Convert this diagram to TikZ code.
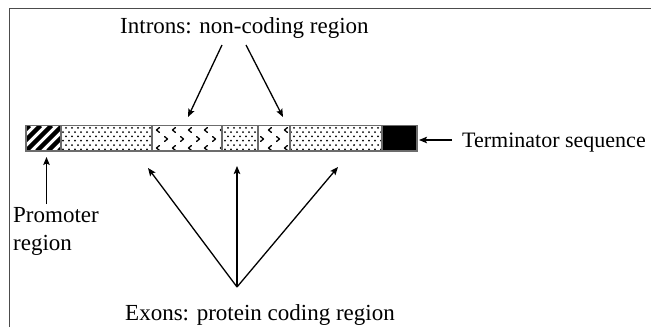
\documentclass[tikz,border=0pt]{standalone}
\usepackage{fontspec}
\setmainfont{Liberation Serif}
\usetikzlibrary{arrows.meta,calc}
\begin{document}
\begin{tikzpicture}[x=1pt,y=-1pt,
  lbl/.style={inner sep=0pt,font=\fontsize{23}{28}\selectfont},
  seg/.style={inner sep=0pt,outer sep=0pt,minimum height=25.5pt,anchor=north west},
  outline/.style={draw=gray!85!black,line width=1.8pt},
  frameline/.style={draw=gray!60!black,line width=1.8pt},
  pointer/.style={draw=black,line width=1.3pt,-{Stealth[length=8pt,width=6.5pt,inset=1.5pt]}},
  hatch/.style={line width=4.3pt,black},
  chevron/.style={line width=1.3pt,black,line cap=round,line join=round}]
\useasboundingbox (0,0) rectangle (651,327);

% frame along the top and left edges
\draw[frameline] (9.5,327) -- (9.5,8.5) -- (651,8.5);

% gene segments
\node[seg,minimum width=35pt] (prom) at (26,125.5) {};
\node[seg,minimum width=91pt] (exA) at (61,125.5) {};
\node[seg,minimum width=70pt] (inA) at (152,125.5) {};
\node[seg,minimum width=36pt] (exB) at (222,125.5) {};
\node[seg,minimum width=32pt] (inB) at (258,125.5) {};
\node[seg,minimum width=92pt] (exC) at (290,125.5) {};
\node[seg,minimum width=35pt,fill=black] (term) at (382,125.5) {};

% promoter: thick diagonal stripes
\begin{scope}
  \clip (prom.north west) rectangle (prom.south east);
  \foreach \x in {4,15,26,37,48,59}
    \draw[hatch] (\x,151) -- ++(25.5,-25.5);
\end{scope}

% exons: staggered dot texture
\foreach \s in {exA,exB,exC}{
  \begin{scope}
    \clip (\s.north west) rectangle (\s.south east);
    \foreach \j in {0,...,5}{
      \pgfmathsetmacro{\yy}{127.8+4.3*\j}
      \pgfmathsetmacro{\off}{mod(\j,2)*3}
      \foreach \i in {0,...,70}
        \fill (60+\off+6*\i,\yy) circle (1pt);
    }
  \end{scope}
}

% introns: chevron texture
\foreach \s in {inA,inB}{
  \begin{scope}
    \clip (\s.north west) rectangle (\s.south east);
    \foreach \j in {0,...,3}{
      \pgfmathsetmacro{\yy}{121+9*\j}
      \pgfmathsetmacro{\off}{mod(\j,2)*8}
      \foreach \i in {0,...,12}{
        \ifodd\j
          \draw[chevron] (150+\off+16*\i+1.5,\yy-2.5) -- ++(-3,2.5) -- ++(3,2.5);
        \else
          \draw[chevron] (150+\off+16*\i-1.5,\yy-2.5) -- ++(3,2.5) -- ++(-3,2.5);
        \fi
      }
    }
  \end{scope}
}

% segment outlines
\foreach \s in {prom,exA,inA,exB,inB,exC,term}
  \draw[outline] (\s.north west) rectangle (\s.south east);

% labels
\node[lbl,anchor=base west] (introns) at (120,33) {Introns: non-coding region};
\node[lbl,anchor=base west] (exons) at (125,320) {Exons: protein coding region};
\node[lbl,anchor=base west,font=\fontsize{22}{26}\selectfont] (termlbl) at (462,147.5) {Terminator sequence};
\node[lbl,anchor=base west] (promlbl) at (13,222) {Promoter};
\node[lbl,anchor=base west] (promlbl2) at (13,250) {region};

% arrow ends
\coordinate (intronL) at (222,45);
\coordinate (intronR) at (246,45);
\coordinate (tipInA) at (188,117);
\coordinate (tipInB) at (283,117);
\coordinate (exonHub) at (237,287);
\coordinate (tipExA) at (148,168);
\coordinate (tipExB) at (237,166);
\coordinate (tipExC) at (338,167);
\coordinate (promTail) at (46.5,204);
\coordinate (tipProm) at (46.5,157);
\coordinate (termTail) at (452,140);
\coordinate (tipTerm) at (419,140);

% pointers
\draw[pointer] (intronL) -- (tipInA);
\draw[pointer] (intronR) -- (tipInB);
\draw[pointer] (exonHub) -- (tipExA);
\draw[pointer] (exonHub) -- (tipExB);
\draw[pointer] (exonHub) -- (tipExC);
\draw[pointer] (promTail) -- (tipProm);
\draw[pointer] (termTail) -- (tipTerm);
\end{tikzpicture}
\end{document}
